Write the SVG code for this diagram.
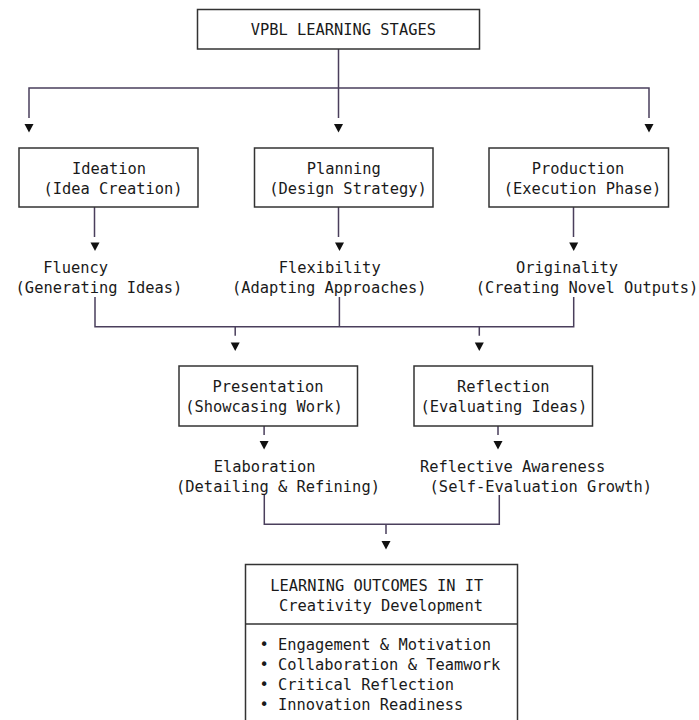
<svg xmlns="http://www.w3.org/2000/svg" width="699" height="720" viewBox="0 0 699 720">
<style>
text{font-family:"DejaVu Sans Mono","Liberation Mono",monospace;font-size:15.4px;fill:#1a1a1a;text-anchor:middle}
text.l{text-anchor:start}
.box{fill:#fff;stroke:#333;stroke-width:1.5}
.ln{fill:none;stroke:#4a3f5c;stroke-width:1.5}
.ar{fill:#111}
</style>
<defs>
<polygon id="tri" points="-4.5,0 4.5,0 0,8.5"/>
</defs>
<rect width="699" height="720" fill="#fff"/>
<g id="connectors">
<path class="ln" d="M338.5 49V118M29 118V88H649V118"/>
<path class="ln" d="M94.5 207V237M338.5 207V237M573.5 207V237"/>
<path class="ln" d="M95 297V326.7H573.7V297M339.4 297V326.7M235.2 326.7V335.7M479.3 326.7V335.7"/>
<path class="ln" d="M264.1 425.7V435M498 425.7V435"/>
<path class="ln" d="M264.3 495V524.3H499.3V495M386 524.3V534"/>
<g class="ar">
<use href="#tri" x="29" y="124"/><use href="#tri" x="338.5" y="124"/><use href="#tri" x="649" y="124"/>
<use href="#tri" x="95" y="242.5"/><use href="#tri" x="339.5" y="242.5"/><use href="#tri" x="573.7" y="242.5"/>
<use href="#tri" x="235.2" y="342.5"/><use href="#tri" x="479.3" y="342.5"/>
<use href="#tri" x="264.1" y="441"/><use href="#tri" x="498" y="441"/>
<use href="#tri" x="386" y="541"/>
</g>
</g>
<g id="top"><rect class="box" x="197.5" y="9.5" width="282" height="39.5"/><text x="343.3" y="35">VPBL LEARNING STAGES</text></g>
<g id="ideation"><rect class="box" x="19" y="148" width="179" height="59"/><text x="109" y="174">Ideation</text><text x="113" y="194">(Idea Creation)</text></g>
<g id="planning"><rect class="box" x="254.5" y="148" width="178.5" height="59"/><text x="343.7" y="174">Planning</text><text x="348" y="194">(Design Strategy)</text></g>
<g id="production"><rect class="box" x="489" y="148" width="179.5" height="59"/><text x="578" y="174">Production</text><text x="582.5" y="194">(Execution Phase)</text></g>
<g id="fluency"><text x="75.7" y="273">Fluency</text><text x="99" y="293">(Generating Ideas)</text></g>
<g id="flexibility"><text x="329.7" y="273">Flexibility</text><text x="329.2" y="293">(Adapting Approaches)</text></g>
<g id="originality"><text x="567" y="273">Originality</text><text x="587" y="293">(Creating Novel Outputs)</text></g>
<g id="presentation"><rect class="box" x="179" y="366" width="178.5" height="60"/><text x="268" y="392">Presentation</text><text x="264" y="412">(Showcasing Work)</text></g>
<g id="reflection"><rect class="box" x="414" y="366" width="178.5" height="60"/><text x="503.3" y="392">Reflection</text><text x="503.8" y="412">(Evaluating Ideas)</text></g>
<g id="elaboration"><text x="264.6" y="471.5">Elaboration</text><text x="278" y="491.5">(Detailing &amp; Refining)</text></g>
<g id="awareness"><text x="512.7" y="471.5">Reflective Awareness</text><text x="540.8" y="491.5">(Self-Evaluation Growth)</text></g>
<g id="outcomes"><rect class="box" x="245.5" y="564.5" width="272" height="165"/><line class="box" x1="245.5" y1="624" x2="517.5" y2="624"/>
<text x="376.7" y="590.7">LEARNING OUTCOMES IN IT</text><text x="381" y="610.7">Creativity Development</text>
<text class="l" x="259.4" y="650">• Engagement &amp; Motivation</text>
<text class="l" x="259.4" y="670">• Collaboration &amp; Teamwork</text>
<text class="l" x="259.4" y="690">• Critical Reflection</text>
<text class="l" x="259.4" y="710">• Innovation Readiness</text>
</g>
</svg>
